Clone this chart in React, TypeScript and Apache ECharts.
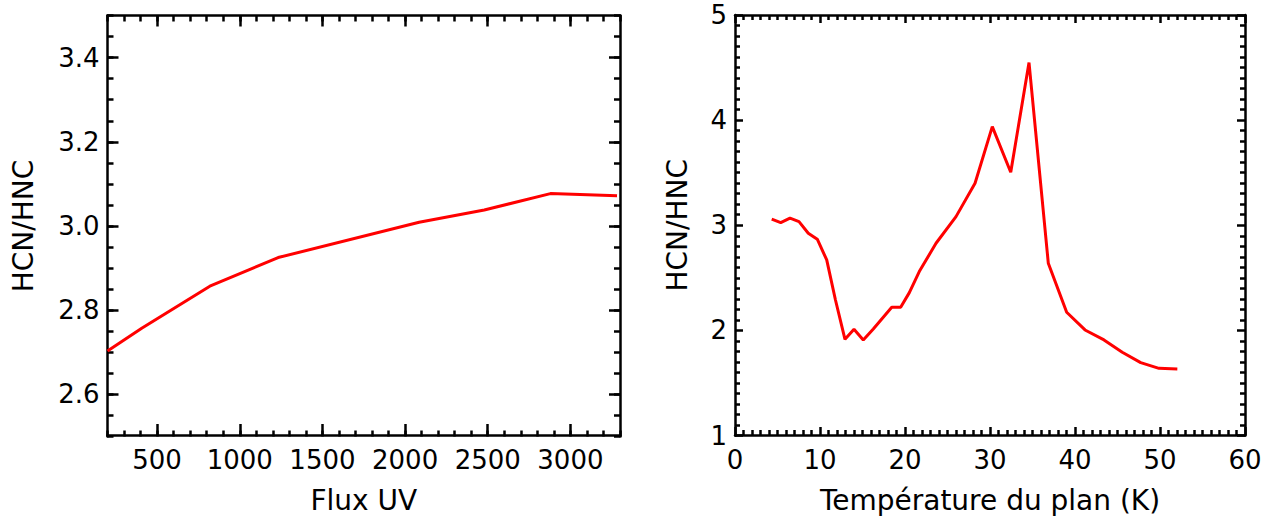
import React, { useEffect, useRef } from "react";
import * as echarts from "echarts";

// Left panel: HCN/HNC vs UV flux
const fluxX = [200, 407, 819, 1232, 2085, 2479, 2879, 3282];
const fluxRatio = [2.703, 2.757, 2.857, 2.925, 3.009, 3.038, 3.077, 3.072];
const fluxTicks = [500, 1000, 1500, 2000, 2500, 3000];
const ratioTicksLeft = [2.6, 2.8, 3.0, 3.2, 3.4];

// Right panel: HCN/HNC vs temperature
const tempX = [4.32, 5.38, 6.47, 7.53, 8.62, 9.68, 10.79, 11.82, 12.94, 14.0, 15.09, 16.27, 18.44, 19.49, 20.51, 21.68, 23.65, 26.0, 28.24, 30.27, 32.44, 34.59, 36.86, 39.02, 41.18, 43.41, 45.56, 47.73, 49.88, 52.04];
const tempRatio = [3.059, 3.025, 3.067, 3.034, 2.924, 2.867, 2.67, 2.289, 1.915, 2.01, 1.909, 2.013, 2.22, 2.22, 2.359, 2.559, 2.829, 3.082, 3.4, 3.938, 3.504, 4.547, 2.638, 2.172, 2.004, 1.909, 1.792, 1.693, 1.639, 1.633];

const FONT = "DejaVu Sans";
const LW = 2.5;

export default function App() {
  const ref = useRef<HTMLDivElement>(null);
  useEffect(() => {
    if (!ref.current) return;
    const chart = echarts.init(ref.current, null, { renderer: "svg" });
    const lbl = { fontFamily: FONT, fontSize: 26, color: "#000" };
    const nameStyle = { fontFamily: FONT, fontSize: 28, color: "#000" };
    const line = (show: boolean) => ({ show, lineStyle: { color: "#000", width: LW } });
    const tick = (len: number, extra: any = {}) => ({ show: true, inside: true, length: len, lineStyle: { color: "#000", width: LW }, ...extra });
    const minor = { show: true, splitNumber: 10, length: 5, lineStyle: { color: "#000", width: LW } };
    const noLabel = { show: false };
    const noSplit = { show: false };
    const plain = (v: number) => String(v);
    const hidden = (gridIndex: number, min: number, max: number) => ({
      type: "value", gridIndex, min, max, show: false,
      axisLine: { show: false }, axisTick: { show: false }, axisLabel: noLabel, splitLine: noSplit,
    });

    const L = { left: 107.5, top: 15.5, width: 512.5, height: 421 };
    const R = { left: 735, top: 15, width: 510, height: 420.5 };
    // grids: 0 left data, 1 left x major, 2 left x minor, 3 left y major, 4 left y minor,
    //        5 right data, 6 right x, 7 right y
    const grids = [L, L, L, L, L, R, R, R];

    const xL = { min: 200, max: 3300 };
    const yL = { min: 2.5, max: 3.5 };

    const xAxes: any[] = [
      hidden(0, 200, 3300), // 0
      { type: "value", gridIndex: 1, position: "bottom", ...xL, name: "Flux UV", nameLocation: "middle", nameGap: 51, nameTextStyle: nameStyle,
        axisLine: line(true), axisTick: tick(11, { customValues: fluxTicks }), axisLabel: { ...lbl, margin: 12, customValues: fluxTicks, formatter: plain }, splitLine: noSplit }, // 1
      { type: "value", gridIndex: 1, position: "top", ...xL, axisLine: line(true), axisTick: tick(11, { customValues: fluxTicks }), axisLabel: noLabel, splitLine: noSplit }, // 2
      { type: "value", gridIndex: 2, position: "bottom", ...xL, interval: 100, axisLine: line(false), axisTick: tick(6), axisLabel: noLabel, splitLine: noSplit }, // 3
      { type: "value", gridIndex: 2, position: "top", ...xL, interval: 100, axisLine: line(false), axisTick: tick(6), axisLabel: noLabel, splitLine: noSplit }, // 4
      hidden(3, 1, 2), // 5
      hidden(4, 1, 2), // 6
      hidden(5, 0, 60), // 7
      { type: "value", gridIndex: 6, position: "bottom", min: 0, max: 60, interval: 10, name: "Température du plan (K)", nameLocation: "middle", nameGap: 51, nameTextStyle: nameStyle,
        axisLine: line(true), axisTick: tick(8), minorTick: minor, axisLabel: { ...lbl, margin: 12, formatter: plain }, splitLine: noSplit }, // 8
      { type: "value", gridIndex: 6, position: "top", min: 0, max: 60, interval: 10,
        axisLine: line(true), axisTick: tick(8), minorTick: minor, axisLabel: noLabel, splitLine: noSplit }, // 9
      hidden(7, 1, 2), // 10
    ];

    const yAxes: any[] = [
      hidden(0, 2.5, 3.5), // 0
      hidden(1, 1, 2), // 1
      hidden(2, 1, 2), // 2
      { type: "value", gridIndex: 3, position: "left", ...yL, name: "HCN/HNC", nameLocation: "middle", nameGap: 70, nameTextStyle: nameStyle,
        axisLine: line(true), axisTick: tick(11, { customValues: ratioTicksLeft }),
        axisLabel: { ...lbl, margin: 8, customValues: ratioTicksLeft, formatter: (v: number) => v.toFixed(1) }, splitLine: noSplit }, // 3
      { type: "value", gridIndex: 3, position: "right", ...yL, axisLine: line(true), axisTick: tick(11, { customValues: ratioTicksLeft }), axisLabel: noLabel, splitLine: noSplit }, // 4
      { type: "value", gridIndex: 4, position: "left", ...yL, interval: 0.05, axisLine: line(false), axisTick: tick(6), axisLabel: noLabel, splitLine: noSplit }, // 5
      { type: "value", gridIndex: 4, position: "right", ...yL, interval: 0.05, axisLine: line(false), axisTick: tick(6), axisLabel: noLabel, splitLine: noSplit }, // 6
      hidden(5, 1, 5), // 7
      hidden(6, 1, 2), // 8
      { type: "value", gridIndex: 7, position: "left", min: 1, max: 5, interval: 1, name: "HCN/HNC", nameLocation: "middle", nameGap: 44, nameTextStyle: nameStyle,
        axisLine: line(true), axisTick: tick(8), minorTick: minor, axisLabel: { ...lbl, margin: 8, formatter: plain }, splitLine: noSplit }, // 9
      { type: "value", gridIndex: 7, position: "right", min: 1, max: 5, interval: 1,
        axisLine: line(true), axisTick: tick(8), minorTick: minor, axisLabel: noLabel, splitLine: noSplit }, // 10
    ];

    chart.setOption({
      animation: false,
      backgroundColor: "#fff",
      grid: grids,
      xAxis: xAxes,
      yAxis: yAxes,
      series: [
        { type: "line", xAxisIndex: 0, yAxisIndex: 0, data: fluxX.map((x, i) => [x, fluxRatio[i]]), showSymbol: false, symbol: "none",
          lineStyle: { color: "#ff0000", width: 3 } },
        { type: "line", xAxisIndex: 7, yAxisIndex: 7, data: tempX.map((x, i) => [x, tempRatio[i]]), showSymbol: false, symbol: "none",
          lineStyle: { color: "#ff0000", width: 3 } },
      ],
    });
    return () => chart.dispose();
  }, []);
  return <div ref={ref} style={{ position: "fixed", left: 0, top: 0, width: 1265, height: 519, background: "#fff" }} />;
}
